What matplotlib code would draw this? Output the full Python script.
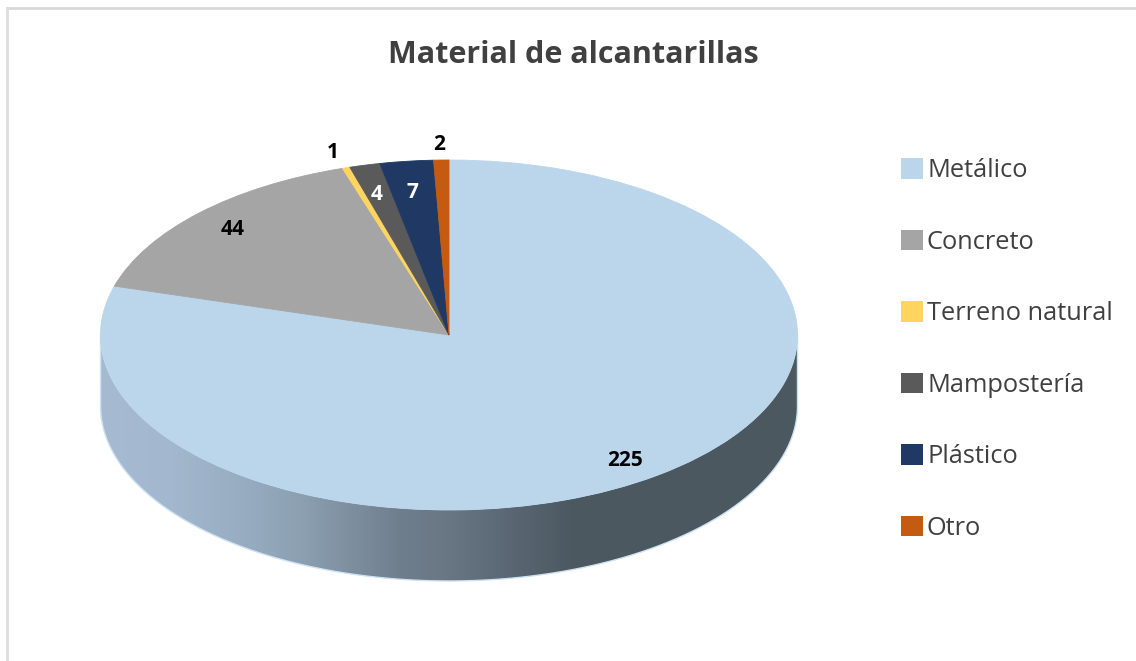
import numpy as np
import matplotlib
matplotlib.use('Agg')
import matplotlib.pyplot as plt
from matplotlib.colors import LinearSegmentedColormap
from matplotlib.patches import Patch, Polygon

categories = ['Metálico', 'Concreto', 'Terreno natural', 'Mampostería', 'Plástico', 'Otro']
values = [225, 44, 1, 4, 7, 2]
colors = ['#BBD5EB', '#A5A5A5', '#FFD45F', '#5A5A5A', '#1F3864', '#C55A11']
label_colors = ['black', 'black', 'black', 'white', 'white', 'black']
title = 'Material de alcantarillas'

W, H = 1136, 661
CX, CY, RX, RY = 449, 335, 348.5, 175
DEPTH = 71 / RY


def to_data(px, py):
    return (px - CX) / RX, (CY - py) / RY


plt.rcParams['font.family'] = ['Open Sans', 'DejaVu Sans']

fig = plt.figure(figsize=(W / 100, H / 100), dpi=100)
ax = fig.add_axes([0, 0, 1, 1])

# side wall of the pie, a gradient clipped to the lower half of the rim
theta = np.linspace(np.pi, 2 * np.pi, 300)
rim_x = np.cos(theta)
rim_y = np.sin(theta)
wall_x = np.concatenate([rim_x, rim_x[::-1]])
wall_y = np.concatenate([rim_y, rim_y[::-1] - DEPTH])

wall_cmap = LinearSegmentedColormap.from_list('wall', [
    (0.00, '#A6BBD1'),
    (0.10, '#A3B8CE'),
    (0.215, '#96ABC0'),
    (0.29, '#8B9FB0'),
    (0.43, '#6F7E8D'),
    (0.49, '#6A7885'),
    (0.574, '#5C6976'),
    (0.68, '#4C5860'),
    (1.00, '#4C5860'),
])
grad = np.linspace(0, 1, 512).reshape(1, -1)
img = ax.imshow(grad, cmap=wall_cmap, extent=[-1, 1, -1 - DEPTH, 0.1], aspect='auto', zorder=1)
wall_path = Polygon(np.column_stack([wall_x, wall_y]), closed=True, transform=ax.transData)
img.set_clip_path(wall_path)

# thin light rim along the bottom edge and up both sides
edge_x = np.concatenate([[-1], rim_x, [1]])
edge_y = np.concatenate([[0], rim_y - DEPTH, [0]])
ax.plot(edge_x, edge_y, color='#CFE2F3', lw=1.0, zorder=1.5)

wedges, _ = ax.pie(values, colors=colors, startangle=90, counterclock=False, radius=1,
                   wedgeprops={'linewidth': 0.6})
for w, c in zip(wedges, colors):
    w.set_edgecolor(c)
    w.set_zorder(2)

ax.set_aspect('auto')
ax.set_xlim(to_data(0, 0)[0], to_data(W, 0)[0])
ax.set_ylim(to_data(0, H)[1], to_data(0, 0)[1])
ax.axis('off')

# data labels
label_px = [(625, 460), (233, 229), (333, 152), (377, 194), (412, 192), (439, 144)]
for v, (px, py), c in zip(values, label_px, label_colors):
    x, y = to_data(px, py)
    ax.text(x, y, str(v), color=c, fontsize=15, fontweight='bold', ha='center', va='center', zorder=5)

tx, ty = to_data(573, 55)
ax.text(tx, ty, title, color='#404040', fontsize=22, fontweight='bold', ha='center', va='center')

handles = [Patch(facecolor=c, edgecolor='none') for c in colors]
fs = 18.3
em = fs * 100 / 72
lx, ly = to_data(901, 158)
ax.legend(handles, categories, loc='upper left', bbox_to_anchor=(lx, ly), bbox_transform=ax.transData,
          frameon=False, fontsize=fs, labelcolor='#404040', borderpad=0, borderaxespad=0,
          handlelength=22 / em, handleheight=22 / em, handletextpad=4 / em, labelspacing=1.83)

# frame lines of the screenshot, top and left only
fig.add_artist(plt.Line2D([7 / W, 1], [1 - 8 / H, 1 - 8 / H], color='#D9D9D9', lw=2, transform=fig.transFigure))
fig.add_artist(plt.Line2D([6.5 / W, 6.5 / W], [0, 1 - 8 / H], color='#DDDDDD', lw=2, transform=fig.transFigure))

fig.savefig('out.png', dpi=100)
